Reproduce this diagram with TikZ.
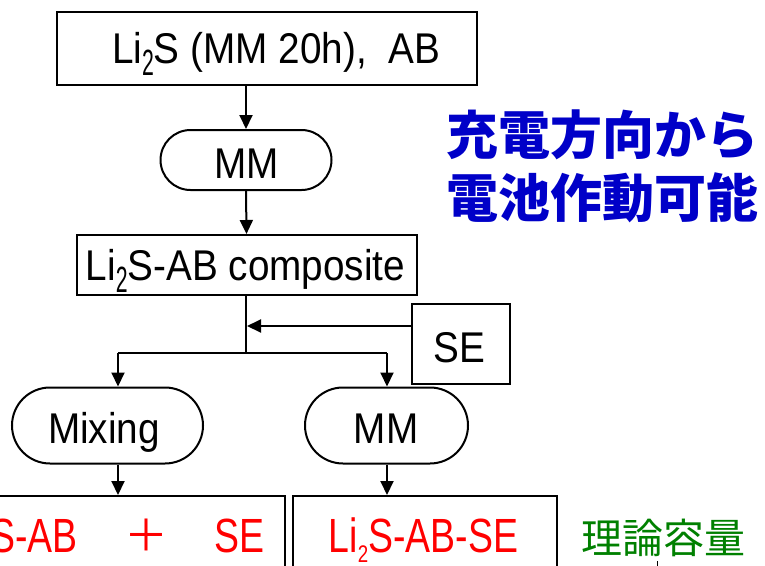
\documentclass[tikz,border=0pt]{standalone}
\usepackage{fontspec}
\usetikzlibrary{arrows.meta}
\newfontfamily\blkfont[FakeStretch=0.9]{Liberation Sans}
\newfontfamily\redfont[FakeStretch=0.78]{Liberation Sans}
\newfontfamily\cjkfont{Noto Sans CJK JP}
\newcommand\subblk{\raisebox{-0.3em}{\scalebox{0.55}[0.85]{2}}}
\newcommand\subred{\raisebox{-0.21em}{\scalebox{0.5}{2}}}
\definecolor{myblue}{RGB}{0,0,200}
\definecolor{mygreen}{RGB}{0,128,0}
\definecolor{myred}{RGB}{255,0,0}
\tikzset{
  boxsty/.style={draw=black, line width=2pt, inner sep=0pt},
  ovalsty/.style={draw=black, line width=2pt, inner sep=0pt},
  blktxt/.style={font=\blkfont\fontsize{43}{43}\selectfont, inner sep=0pt, anchor=base},
  redtxt/.style={font=\redfont\fontsize{48}{48}\selectfont, text=myred, inner sep=0pt, anchor=base},
  conn/.style={line width=2pt},
  arr/.style={line width=2pt, -{Triangle[length=14pt,width=13pt]}},
}
\begin{document}
\begin{tikzpicture}[x=1pt,y=-1pt]
\useasboundingbox (0,0) rectangle (765,565);
\clip (0,0) rectangle (765,565);
% boxes and ovals
\node[boxsty, minimum width=420pt, minimum height=73pt] (top) at (267,48.5) {};
\node[blktxt] (toptext) at (276,63) {Li\subblk S (MM 20h),\ \ AB};
\node[ovalsty, rounded corners=30pt, minimum width=171pt, minimum height=60pt] (mm1) at (246,160) {};
\node[blktxt] (mm1text) at (246.5,178) {MM};
\node[boxsty, minimum width=340pt, minimum height=60pt] (comp) at (246.5,265) {};
\node[blktxt] (comptext) at (245.5,280) {Li\subblk S-AB composite};
\node[boxsty, minimum width=98pt, minimum height=80pt] (se) at (461,344) {};
\node[blktxt] (setext) at (459,362) {SE};
\node[ovalsty, rounded corners=38pt, minimum width=191pt, minimum height=76pt] (mix) at (107.5,425.5) {};
\node[blktxt] (mixtext) at (104,443) {Mixing};
\node[ovalsty, rounded corners=38pt, minimum width=163pt, minimum height=76pt] (mm2) at (386.5,425.5) {};
\node[blktxt] (mm2text) at (386,443) {MM};
\node[boxsty, minimum width=365pt, minimum height=124pt] (lbox) at (102.5,558) {};
\node[boxsty, minimum width=264pt, minimum height=124pt] (rbox) at (425,558) {};
% red texts
\node[redtxt, anchor=base east] (ltext) at (78,552) {Li\subred S-AB};
\node[font=\cjkfont\fontsize{44}{44}\selectfont, text=myred, inner sep=0pt] (plus) at (146,535) {＋};
\node[redtxt] (setext2) at (239,552) {SE};
\node[redtxt] (rtext) at (423.5,552) {Li\subred S-AB-SE};
% green text
\node[font=\cjkfont\fontsize{41}{41}\selectfont, text=mygreen, inner sep=0pt] (green) at (663.5,538) {理論容量};
% blue text
\node[font=\cjkfont\bfseries\fontsize{52}{63}\selectfont, text=myblue, inner sep=0pt, align=center] (blue) at (602,166) {充電方向から\\電池作動可能};
% connectors
\coordinate (join) at (246,353);
\coordinate (seto) at (246,326);
\coordinate (lsplit) at (118,353);
\coordinate (rsplit) at (387,353);
\draw[arr] (top.south -| mm1) -- (mm1.north);
\draw[arr] (mm1.south) -- (comp.south |- comp.north);
\draw[conn] (comp.south -| join) -- (join);
\draw[arr] (se.west |- seto) -- ([xshift=1pt]seto);
\draw[conn] (lsplit) -- (rsplit);
\draw[arr] (lsplit) -- (lsplit |- mix.north);
\draw[arr] (rsplit) -- (rsplit |- mm2.north);
\draw[arr] (lsplit |- mix.south) -- (lsplit |- lbox.north);
\draw[arr] (rsplit |- mm2.south) -- (rsplit |- rbox.north);
% small tick at bottom edge
\coordinate (tickt) at (657,561);
\coordinate (tickb) at (657,566);
\draw[line width=1pt] (tickt) -- (tickb);
\end{tikzpicture}
\end{document}
